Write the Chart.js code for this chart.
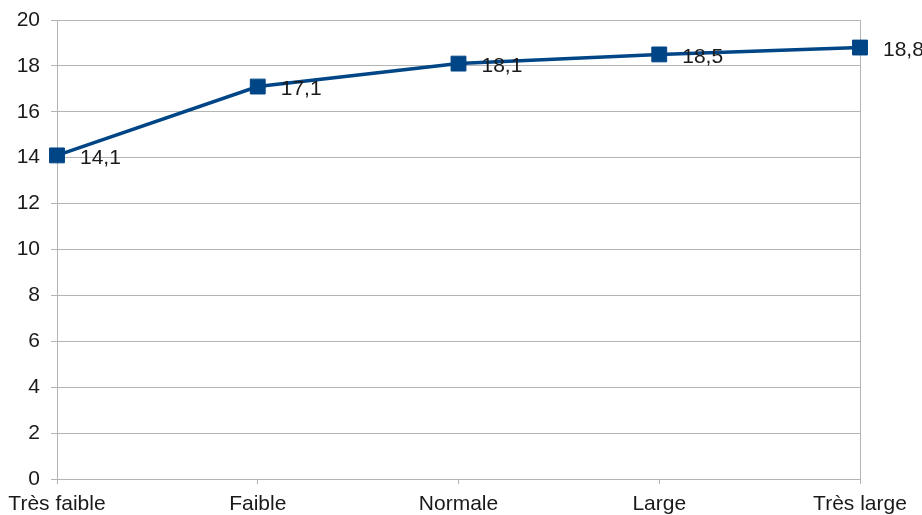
<!DOCTYPE html>
<html>
<head>
<meta charset="utf-8">
<script src="https://cdn.jsdelivr.net/npm/chart.js@4/dist/chart.umd.min.js"></script>
<style>
html,body{margin:0;padding:0;background:#fff;}
#wrap{width:922px;height:515px;}
</style>
</head>
<body>
<div id="wrap"><canvas id="c" width="922" height="515"></canvas></div>
<script>
const categories = ["Très faible", "Faible", "Normale", "Large", "Très large"];
const values = [14.1, 17.1, 18.1, 18.5, 18.8];
const yTicks = [0, 2, 4, 6, 8, 10, 12, 14, 16, 18, 20];

const FONT = "'Liberation Sans', Arial, sans-serif";
const FSIZE = 21;
const GRID = '#b3b3b3';
const BLUE = '#004586';

const labelPlugin = {
  id: 'valueLabels',
  afterDatasetsDraw(chart) {
    const ctx = chart.ctx;
    const meta = chart.getDatasetMeta(0);
    ctx.save();
    ctx.font = FSIZE + 'px ' + FONT;
    ctx.fillStyle = '#1a1a1a';
    ctx.textAlign = 'left';
    ctx.textBaseline = 'middle';
    meta.data.forEach((pt, i) => {
      const v = chart.data.datasets[0].data[i];
      ctx.fillText(String(v).replace('.', ','), pt.x + 23, pt.y + 3);
    });
    ctx.restore();
  }
};

new Chart(document.getElementById('c'), {
  type: 'line',
  data: {
    labels: categories,
    datasets: [{
      data: values,
      borderColor: BLUE,
      backgroundColor: BLUE,
      borderWidth: 3.5,
      pointStyle: 'rect',
      pointRadius: 10.5,
      pointBorderWidth: 1,
      pointBackgroundColor: BLUE,
      pointBorderColor: BLUE,
      tension: 0,
      fill: false
    }]
  },
  options: {
    responsive: false,
    animation: false,
    devicePixelRatio: 1,
    layout: { padding: { top: 20, right: 62, left: 0, bottom: 0 } },
    plugins: { legend: { display: false }, tooltip: { enabled: false } },
    scales: {
      x: {
        offset: false,
        grid: {
          color: (c) => (c.index === 0 || c.index === categories.length - 1) ? GRID : 'rgba(0,0,0,0)',
          tickColor: GRID,
          tickLength: 5,
          lineWidth: 1
        },
        border: { display: true, color: GRID },
        ticks: { color: '#1a1a1a', font: { family: FONT, size: FSIZE }, padding: 8, maxRotation: 0, autoSkip: false },
        afterFit(s) { s.height = 36; s.paddingLeft = 0; s.paddingRight = 0; }
      },
      y: {
        min: 0, max: 20,
        afterBuildTicks(s) { s.ticks = yTicks.map(v => ({ value: v })); },
        grid: { color: GRID, tickColor: GRID, tickLength: 6, lineWidth: 1 },
        border: { display: true, color: GRID },
        ticks: { color: '#1a1a1a', font: { family: FONT, size: FSIZE }, padding: 11 },
        afterFit(s) { s.width = 57; s.paddingTop = 0; s.paddingBottom = 0; }
      }
    }
  },
  plugins: [labelPlugin]
});
</script>
</body>
</html>
